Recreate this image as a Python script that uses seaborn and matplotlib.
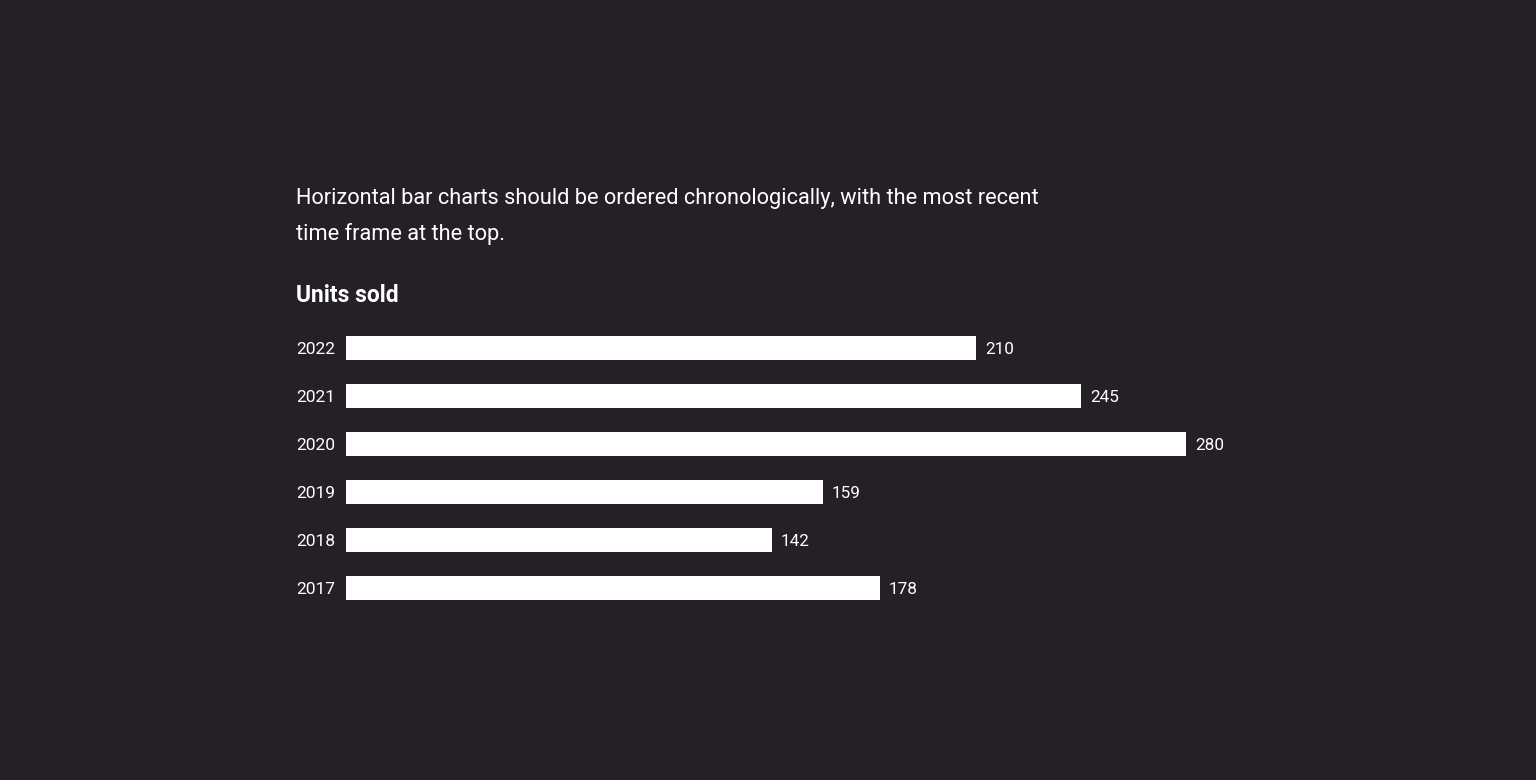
import matplotlib
matplotlib.use("Agg")
import matplotlib.pyplot as plt
import seaborn as sns
import pandas as pd

years = ["2022", "2021", "2020", "2019", "2018", "2017"]
units = [210, 245, 280, 159, 142, 178]
subtitle = "Horizontal bar charts should be ordered chronologically, with the most recent\ntime frame at the top."
title = "Units sold"

BG = "#242026"
FG = "#ffffff"

sns.set_theme(style="white")
plt.rcParams["font.family"] = ["Roboto", "DejaVu Sans"]

W, H = 1536, 780
fig = plt.figure(figsize=(W / 100, H / 100), dpi=100, facecolor=BG)
ax = fig.add_axes([346 / W, 1 - 611.5 / H, 840 / W, 288 / H], facecolor=BG)

df = pd.DataFrame({"year": years, "units": units})
sns.barplot(data=df, x="units", y="year", order=years, orient="h",
            color=FG, saturation=1, width=0.5, ax=ax, edgecolor="none")

ax.set_xlim(0, 280)
ax.set_ylim(5.5, -0.5)
ax.set_xlabel("")
ax.set_ylabel("")
ax.set_xticks([])
for s in ax.spines.values():
    s.set_visible(False)
ax.tick_params(axis="y", length=0, pad=8, labelsize=12.5, labelcolor=FG)
for lbl in ax.get_yticklabels():
    lbl.set_va("center_baseline")

for c in ax.containers:
    texts = ax.bar_label(c, labels=[str(v) for v in units], padding=6.5, color=FG,
                         fontsize=12.3)
    for t in texts:
        t.set_va("center_baseline")

fig.text(296 / W, 1 - 216.5 / H, subtitle, color=FG, fontsize=15.7, va="center",
         ha="left", linespacing=1.8)
fig.text(296 / W, 1 - 295 / H, title, color=FG, fontsize=16.5, fontweight="bold",
         va="center", ha="left")

fig.savefig("out.png", dpi=100, facecolor=BG)
